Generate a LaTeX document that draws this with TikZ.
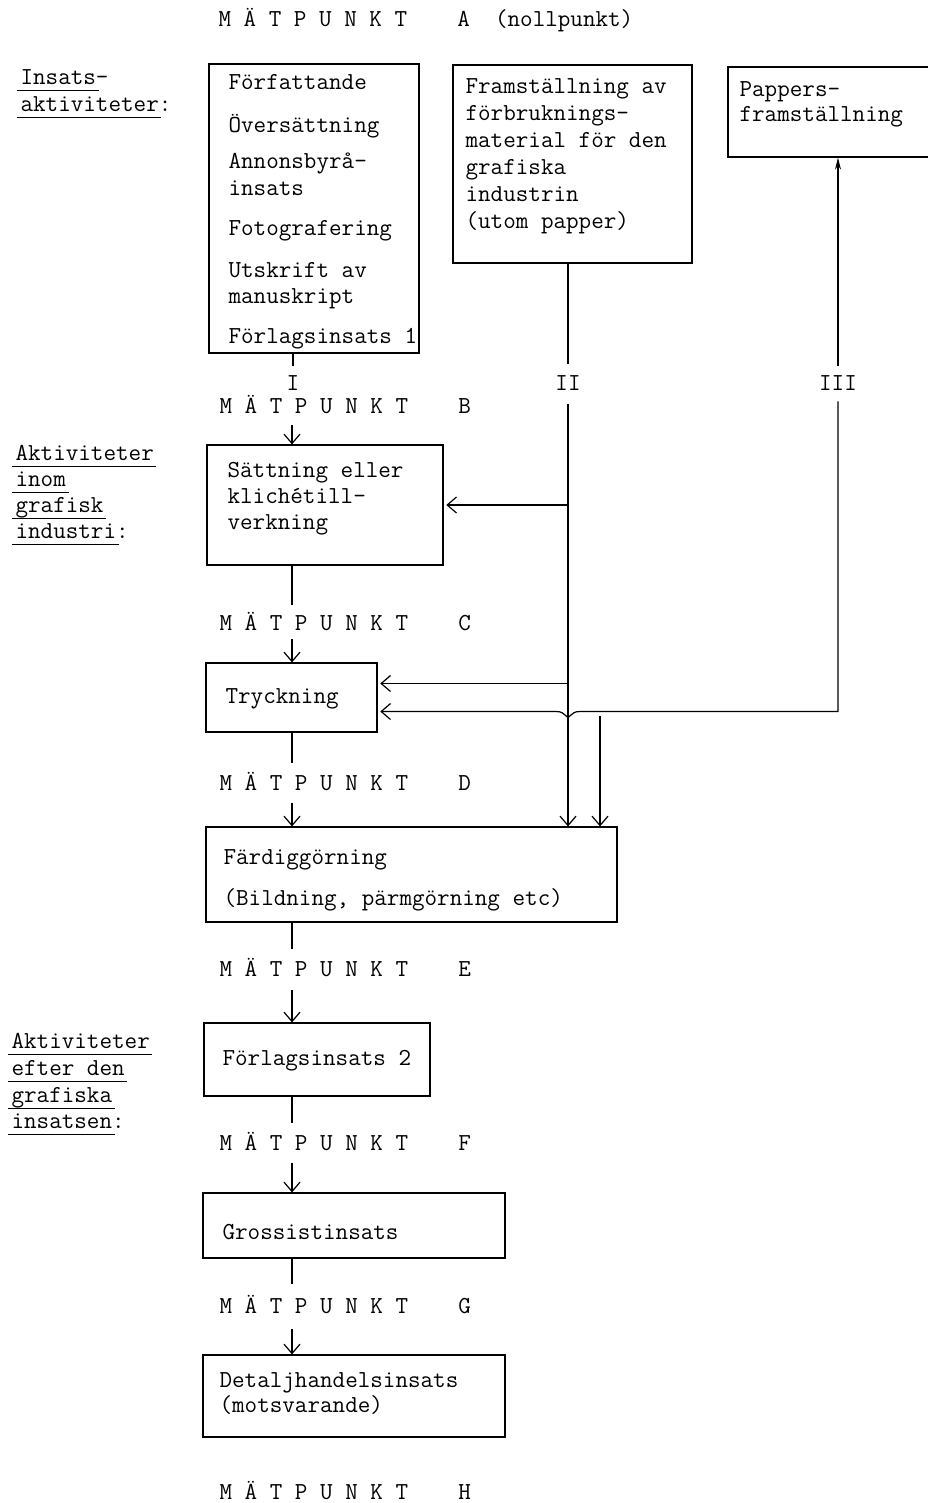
\documentclass[tikz,border=0pt]{standalone}
\usepackage{fontspec}
\usetikzlibrary{arrows.meta,fit,calc}
\newcommand\myul[1]{\setbox0\hbox{#1}\rlap{\kern-3pt\rule[-5pt]{\dimexpr\wd0+5pt\relax}{0.8pt}}\box0}
\newcommand\mpt[1]{M Ä T P U N K T~~~~#1}
\begin{document}
\begin{tikzpicture}[x=0.75pt,y=-0.75pt,
  line width=0.9pt,
  box/.style={draw, inner sep=0pt, line width=0.9pt},
  txt/.style={font=\ttfamily\fontsize{18.3}{22}\selectfont, inner sep=0pt, anchor=base west},
  rl/.style={txt, anchor=base},
  arr/.style={-{Straight Barb[length=7pt,width=12pt,line width=0.9pt]}},
  uparr/.style={-{Stealth[length=9pt,width=4.5pt]}}]

\fill[white] (0,0) rectangle (928,1503);
\useasboundingbox (0,0) rectangle (928,1503);

% ---------- measuring points ----------
\node[txt] (mA) at (218,26) {\mpt{A}~~(nollpunkt)};
\node[txt] (mB) at (219,413) {\mpt{B}};
\node[txt] (mC) at (219,630) {\mpt{C}};
\node[txt] (mD) at (219,790) {\mpt{D}};
\node[txt] (mE) at (219,976) {\mpt{E}};
\node[txt] (mF) at (219,1150) {\mpt{F}};
\node[txt] (mG) at (219,1313) {\mpt{G}};
\node[txt] (mH) at (219,1499) {\mpt{H}};

% ---------- left labels ----------
\node[txt] (la1) at (20,84) {\myul{Insats}-};
\node[txt] (la2) at (20,111) {\myul{aktiviteter}:};

\node[txt] (lb1) at (15,460) {\myul{Aktiviteter}};
\node[txt] (lb2) at (15,486) {\myul{inom}};
\node[txt] (lb3) at (15,512) {\myul{grafisk}};
\node[txt] (lb4) at (15,538) {\myul{industri}:};

\node[txt] (lc1) at (11,1048) {\myul{Aktiviteter}};
\node[txt] (lc2) at (11,1075) {\myul{efter den}};
\node[txt] (lc3) at (11,1102) {\myul{grafiska}};
\node[txt] (lc4) at (11,1128) {\myul{insatsen}:};

% ---------- boxes ----------
\node[box, fit={(209,64) (419,353)}] (b1) {};
\node[box, fit={(453,65) (692,263)}] (b2) {};
\node[box, fit={(728,67) (945,157)}] (b3) {};
\node[box, fit={(207,445) (443,565)}] (b4) {};
\node[box, fit={(206,663) (377,732)}] (b5) {};
\node[box, fit={(206,827) (617,922)}] (b6) {};
\node[box, fit={(204,1023) (430,1096)}] (b7) {};
\node[box, fit={(203,1193) (505,1258)}] (b8) {};
\node[box, fit={(203,1355) (505,1437)}] (b9) {};

% ---------- box texts ----------
\node[txt] (t11) at (228,89) {Författande};
\node[txt] (t12) at (228,132) {Översättning};
\node[txt] (t13) at (228,168) {Annonsbyrå-};
\node[txt] (t14) at (228,195) {insats};
\node[txt] (t15) at (228,235) {Fotografering};
\node[txt] (t16) at (228,277) {Utskrift av};
\node[txt] (t17) at (228,303) {manuskript};
\node[txt] (t18) at (228,343) {Förlagsinsats 1};

\node[txt] (t21) at (465,93) {Framställning av};
\node[txt] (t22) at (465,120) {förbruknings-};
\node[txt] (t23) at (465,147) {material för den};
\node[txt] (t24) at (465,174) {grafiska};
\node[txt] (t25) at (465,201) {industrin};
\node[txt] (t26) at (465,228) {(utom papper)};

\node[txt] (t31) at (739,96) {Pappers-};
\node[txt] (t32) at (739,121) {framställning};

\node[txt] (t41) at (227,477) {Sättning eller};
\node[txt] (t42) at (227,503) {klichétill-};
\node[txt] (t43) at (227,529) {verkning};

\node[txt] (t51) at (225,703) {Tryckning};

\node[txt] (t61) at (223,864) {Färdiggörning};
\node[txt] (t62) at (223,905) {(Bildning, pärmgörning etc)};

\node[txt] (t71) at (222,1065) {Förlagsinsats 2};
\node[txt] (t81) at (222,1239) {Grossistinsats};
\node[txt] (t91) at (219,1387) {Detaljhandelsinsats};
\node[txt] (t92) at (219,1412) {(motsvarande)};

% ---------- roman labels ----------
\node[rl] (lI) at (293,390) {I};
\node[rl] (lII) at (568,390) {II};
\node[rl] (lIII) at (838,390) {III};

\coordinate (col) at (292,0);

% ---------- main column ----------
\draw[shorten >=6pt] (b1.south -| lI) -- (lI.north);
\draw[arr, shorten <=8pt] (col |- mB.south) -- (col |- b4.north);
\draw[shorten >=5pt] (col |- b4.south) -- (col |- mC.north);
\draw[arr, shorten <=6pt] (col |- mC.south) -- (col |- b5.north);
\draw[shorten >=6pt] (col |- b5.south) -- (col |- mD.north);
\draw[arr, shorten <=9pt] (col |- mD.south) -- (col |- b6.north);
\draw[shorten >=6pt] (col |- b6.south) -- (col |- mE.north);
\draw[arr, shorten <=10pt] (col |- mE.south) -- (col |- b7.north);
\draw[shorten >=6pt] (col |- b7.south) -- (col |- mF.north);
\draw[arr, shorten <=9pt] (col |- mF.south) -- (col |- b8.north);
\draw[shorten >=8pt] (col |- b8.south) -- (col |- mG.north);
\draw[arr, shorten <=11pt] (col |- mG.south) -- (col |- b9.north);

% ---------- line II ----------
\draw[shorten >=8pt] (b2.south -| lII) -- (lII.north);
\draw[arr, shorten <=10pt] (lII.south) -- (lII |- b6.north);
\draw[arr] (lII |- b4.east) -- ([xshift=2pt]b4.east);
\coordinate (hi) at ([yshift=10.5pt]b5.east);
\coordinate (lo) at ([yshift=-10.5pt]b5.east);
\draw[arr] (lII |- hi) -- ([xshift=2pt]hi);

% ---------- line III ----------
\draw[uparr, shorten <=6pt] (lIII.north) -- (lIII |- b3.south);
\coordinate (X) at (lII |- lo);
\coordinate (br) at ([xshift=24pt]X);
\draw[arr, shorten <=8pt] (lIII.south) -- (lIII |- lo) -- ([xshift=9pt]X)
  .. controls +(-5pt,0pt) and +(4pt,3pt) .. ([yshift=-4.5pt]X)
  .. controls +(-4pt,3pt) and +(5pt,0pt) .. ([xshift=-9pt]X) -- ([xshift=2pt]lo);
\draw[arr, shorten <=3pt] (br) -- (br |- b6.north);

\end{tikzpicture}
\end{document}
